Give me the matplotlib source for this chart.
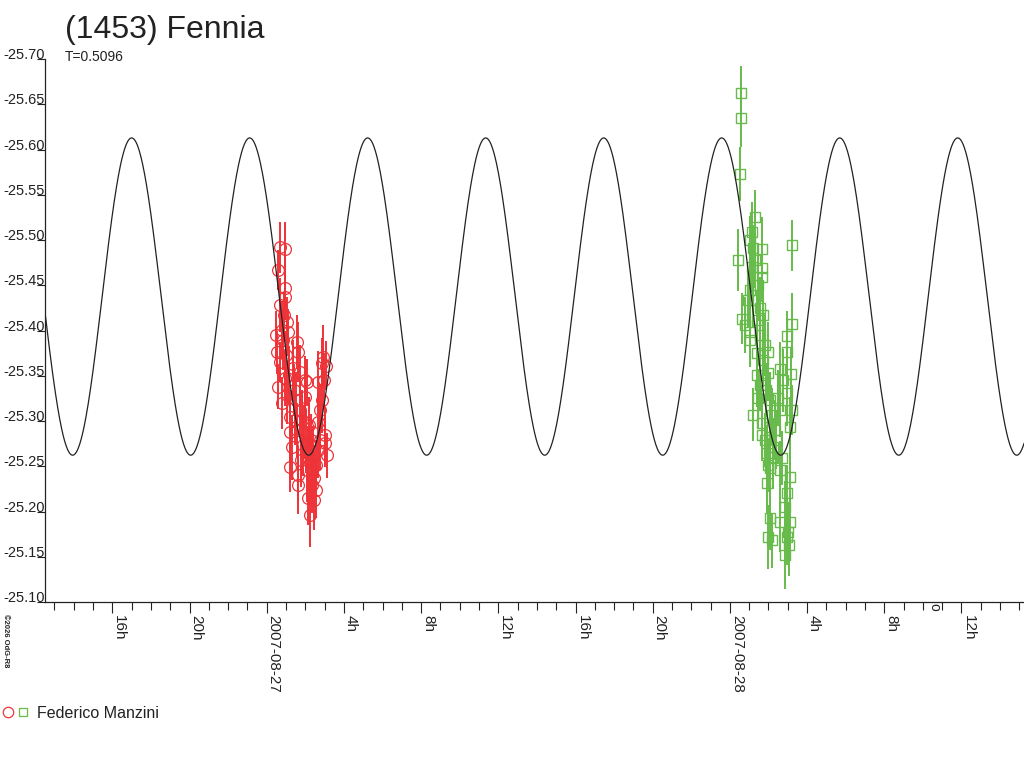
import numpy as np
import matplotlib
matplotlib.use("Agg")
import matplotlib.pyplot as plt
from matplotlib.lines import Line2D
from matplotlib.legend_handler import HandlerTuple
from matplotlib.ticker import FixedLocator, MultipleLocator

plt.rcParams['font.family'] = ['Liberation Sans', 'DejaVu Sans']

# time axis: hours from 2007-08-27 00:00 UT
x_range = (-11.49, 39.24)
major_hours = [-8, -4, 0, 4, 8, 12, 16, 20, 24, 28, 32, 36]
major_labels = ["16h", "20h", "2007-08-27", "4h", "8h", "12h",
                "16h", "20h", "2007-08-28", "4h", "8h", "12h"]
y_ticks = [-25.70, -25.65, -25.60, -25.55, -25.50, -25.45, -25.40,
           -25.35, -25.30, -25.25, -25.20, -25.15, -25.10]
marker_hours = [34.57]

# fitted lightcurve (second harmonic dominated)
period_days = 0.5096
mean_mag = -25.4375
amplitude = 0.1753
epoch_max_h = -7.0

# observer: Federico Manzini, night 1 (red circles)
red_t = [0.689, 0.948, 0.585, 0.948, 0.948, 0.689, 1.052, 0.793, 1.104, 0.534,
         1.570, 1.622, 2.917, 2.865, 0.689, 1.363, 2.658, 1.984, 0.948, 0.585,
         0.793, 1.207, 1.311, 1.207, 1.622, 2.140, 2.244, 3.021, 3.021, 3.124,
         2.658, 1.622, 2.347, 2.088, 1.984, 1.207, 0.845, 1.000, 1.155, 1.415,
         1.518, 1.725, 1.829, 1.933, 2.036, 2.140, 2.244, 2.347, 2.451, 2.554,
         2.658, 2.762, 2.865, 2.969, 3.072, 2.399, 2.295, 2.192, 1.881, 1.777,
         1.466, 1.052, 0.896, 1.725, 2.451, 2.554, 2.762, 2.088, 1.570, 0.482]
red_mag = [-25.492, -25.490, -25.467, -25.447, -25.437, -25.428, -25.409, -25.401, -25.398, -25.376,
           -25.387, -25.376, -25.371, -25.364, -25.365, -25.359, -25.343, -25.345, -25.348, -25.338,
           -25.320, -25.288, -25.271, -25.249, -25.229, -25.215, -25.196, -25.285, -25.276, -25.262,
           -25.299, -25.240, -25.229, -25.343, -25.327, -25.304, -25.390, -25.373, -25.351, -25.334,
           -25.323, -25.312, -25.301, -25.288, -25.277, -25.266, -25.255, -25.246, -25.237, -25.251,
           -25.268, -25.279, -25.323, -25.345, -25.361, -25.262, -25.279, -25.296, -25.273, -25.257,
           -25.301, -25.329, -25.417, -25.354, -25.213, -25.224, -25.312, -25.246, -25.290, -25.395]
red_err = [0.028, 0.030, 0.022, 0.035, 0.025, 0.030, 0.028, 0.032, 0.026, 0.024,
           0.030, 0.033, 0.035, 0.028, 0.022, 0.030, 0.034, 0.027, 0.031, 0.025,
           0.029, 0.033, 0.036, 0.028, 0.032, 0.030, 0.035, 0.030, 0.027, 0.025,
           0.033, 0.029, 0.031, 0.026, 0.028, 0.030, 0.034, 0.027, 0.032, 0.029,
           0.031, 0.028, 0.033, 0.030, 0.035, 0.029, 0.032, 0.034, 0.030, 0.028,
           0.031, 0.033, 0.036, 0.030, 0.027, 0.032, 0.029, 0.031, 0.034, 0.030,
           0.028, 0.032, 0.026, 0.030, 0.033, 0.031, 0.029, 0.035, 0.030, 0.027]

# night 2 (green squares)
green_t = [24.575, 24.575, 24.523, 24.420, 24.627, 27.218, 25.301, 25.145, 25.197, 25.663,
           25.145, 25.663, 25.663, 24.938, 25.560, 25.715, 25.041, 25.041, 25.404, 25.974,
           25.715, 25.974, 25.404, 26.596, 27.218, 26.959, 26.959, 27.166, 25.456, 25.197,
           26.492, 26.959, 26.596, 27.218, 25.663, 26.078, 27.114, 25.663, 25.922, 26.233,
           26.699, 26.596, 27.114, 25.922, 26.959, 26.855, 26.078, 27.114, 26.596, 27.010,
           25.974, 26.181, 26.959, 26.855, 26.078, 26.233, 25.819, 25.041, 25.301, 25.456,
           25.041, 25.197, 25.404, 25.560, 25.819, 25.870, 26.078, 26.181, 26.337, 25.974,
           26.389, 26.751, 25.560, 27.062, 24.782]
green_mag = [-25.662, -25.635, -25.573, -25.478, -25.413, -25.494, -25.525, -25.509, -25.491, -25.490,
             -25.470, -25.469, -25.459, -25.434, -25.425, -25.417, -25.398, -25.390, -25.375, -25.376,
             -25.367, -25.353, -25.351, -25.357, -25.407, -25.394, -25.376, -25.352, -25.325, -25.307,
             -25.325, -25.331, -25.312, -25.312, -25.298, -25.293, -25.293, -25.285, -25.265, -25.260,
             -25.259, -25.246, -25.238, -25.231, -25.220, -25.205, -25.193, -25.188, -25.188, -25.177,
             -25.172, -25.168, -25.172, -25.152, -25.248, -25.271, -25.279, -25.500, -25.478, -25.450,
             -25.445, -25.434, -25.412, -25.395, -25.384, -25.334, -25.323, -25.307, -25.290, -25.251,
             -25.279, -25.345, -25.340, -25.163, -25.406]
green_err = [0.030, 0.032, 0.030, 0.034, 0.028, 0.028, 0.030, 0.033, 0.026, 0.035,
             0.029, 0.031, 0.027, 0.030, 0.034, 0.028, 0.032, 0.030, 0.027, 0.033,
             0.029, 0.031, 0.035, 0.030, 0.034, 0.028, 0.032, 0.030, 0.033, 0.029,
             0.031, 0.036, 0.030, 0.028, 0.033, 0.030, 0.034, 0.029, 0.031, 0.035,
             0.030, 0.032, 0.028, 0.034, 0.031, 0.029, 0.036, 0.030, 0.033, 0.032,
             0.035, 0.030, 0.031, 0.038, 0.029, 0.032, 0.030, 0.027, 0.031, 0.033,
             0.029, 0.030, 0.032, 0.028, 0.034, 0.030, 0.031, 0.029, 0.033, 0.030,
             0.032, 0.035, 0.029, 0.034, 0.031]

RED = '#ee3338'
GREEN = '#66bb4a'
INK = '#222222'

fig = plt.figure(figsize=(10.24, 7.68), dpi=100)
W, H = 1024, 768
ax = fig.add_axes([45 / W, 1 - 602 / H, (W - 45) / W, (602 - 59) / H])

ax.errorbar(red_t, red_mag, yerr=red_err, fmt='o', ms=8.5, mfc='none', mec=RED,
            mew=0.9, ecolor=RED, elinewidth=1.4, capsize=0, zorder=2)
ax.errorbar(green_t, green_mag, yerr=green_err, fmt='s', ms=7, mfc='none', mec=GREEN,
            mew=1.0, ecolor=GREEN, elinewidth=1.4, capsize=0, zorder=2)

t = np.linspace(x_range[0], x_range[1], 2000)
half = period_days * 24 / 2
model = mean_mag - amplitude * np.cos(2 * np.pi * (t - epoch_max_h) / half)
ax.plot(t, model, color=INK, lw=0.9, zorder=3)

ax.set_xlim(*x_range)
ax.set_ylim(-25.10, -25.70)

for s in ['top', 'right']:
    ax.spines[s].set_visible(False)
for s in ['left', 'bottom']:
    ax.spines[s].set_linewidth(0.9)
    ax.spines[s].set_color(INK)

ax.set_yticks(y_ticks)
ax.set_yticklabels([f"{v:.2f}" for v in y_ticks])
ax.tick_params(axis='y', direction='out', length=5.8, width=0.8, pad=-5.8,
               labelsize=10.5, colors=INK)
for lab in ax.get_yticklabels():
    lab.set_verticalalignment('baseline')

ax.xaxis.set_major_locator(FixedLocator(major_hours))
ax.set_xticklabels(major_labels)
ax.xaxis.set_minor_locator(MultipleLocator(1))
ax.tick_params(axis='x', which='major', direction='out', length=7.9, width=0.8,
               pad=1.5, labelsize=11, colors=INK)
ax.tick_params(axis='x', which='minor', direction='out', length=5.8, width=0.8,
               colors=INK)
for lab in ax.get_xticklabels():
    lab.set_rotation(270)
    lab.set_horizontalalignment('left')

for mh in marker_hours:
    ax.annotate('o', xy=(mh, 0), xycoords=('data', 'axes fraction'),
                xytext=(0, -1), textcoords='offset points', ha='center', va='top',
                rotation=270, fontsize=10, color=INK)

fig.text(65 / W, 1 - 30 / H, '(1453) Fennia', fontsize=23, ha='left', va='center', color=INK)
fig.text(65 / W, 1 - 57 / H, 'T=0.5096', fontsize=10, ha='left', va='center', color=INK)
fig.text(2 / W, 1 - 614 / H, '©2026 OdG-R8', fontsize=5.5, rotation=270,
         ha='left', va='top', color=INK, fontweight='bold')

h_red = Line2D([], [], marker='o', ls='none', mfc='none', mec=RED, ms=7.5, mew=0.9)
h_green = Line2D([], [], marker='s', ls='none', mfc='none', mec=GREEN, ms=5.5, mew=0.9)
fig.legend(handles=[(h_red, h_green)], labels=['Federico Manzini'],
           handler_map={tuple: HandlerTuple(ndivide=None, pad=0.2)},
           loc='center left', bbox_to_anchor=(2 / W, 1 - 713 / H), frameon=False,
           fontsize=11.5, handlelength=1.7, handletextpad=0.5, borderpad=0,
           borderaxespad=0, labelcolor=INK)

fig.savefig('out.png', dpi=100)
